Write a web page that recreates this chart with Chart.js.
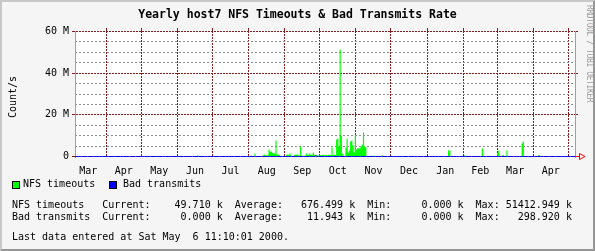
<!DOCTYPE html>
<html>
<head>
<meta charset="utf-8">
<script src="https://cdn.jsdelivr.net/npm/chart.js"></script>
<style>
html,body{margin:0;padding:0;background:#f5f5f5;}
#wrap{position:relative;width:595px;height:251px;overflow:hidden;background:#f5f5f5;}
#frame{position:absolute;left:0;top:0;width:595px;height:251px;box-sizing:border-box;
  border-top:2px solid #c8c8c8;border-left:2px solid #c8c8c8;border-right:2px solid #969696;border-bottom:2px solid #969696;}
canvas{position:absolute;left:0;top:0;}
.t{position:absolute;font-family:"DejaVu Sans Mono",monospace;font-size:10px;line-height:11px;white-space:pre;color:#000;}
#title{left:0;width:595px;text-align:center;top:7px;font-weight:bold;font-size:11.5px;line-height:14px;}
#ylab{left:12px;top:97px;transform:translate(-50%,-50%) rotate(-90deg);}
#credit{position:absolute;left:585px;top:5px;font-family:"DejaVu Sans Mono",monospace;font-size:8px;line-height:8px;
  letter-spacing:-0.4px;writing-mode:vertical-rl;color:#9a9a9a;white-space:pre;}
.box{position:absolute;width:8px;height:8px;box-sizing:border-box;border:1px solid #000;}
</style>
</head>
<body>
<div id="wrap">
  <div id="frame"></div>
  <canvas id="c" width="595" height="251"></canvas>
  <div id="title" class="t">Yearly host7 NFS Timeouts &amp; Bad Transmits Rate</div>
  <div id="ylab" class="t">Count/s</div>
  <div id="credit">RRDTOOL / TOBI OETIKER</div>
  <div class="box" style="left:12px;top:181px;background:#00ff00"></div>
  <div class="t" style="left:23px;top:178px">NFS timeouts</div>
  <div class="box" style="left:109px;top:181px;background:#0000ff"></div>
  <div class="t" style="left:123px;top:178px">Bad transmits</div>
  <div id="s1" class="t" style="left:12px;top:199px"></div>
  <div id="s2" class="t" style="left:12px;top:211px"></div>
  <div id="s3" class="t" style="left:12px;top:231px"></div>
</div>
<script>
// ---- time axis (days counted from 1999-03-01) ----
const X_MIN = 4.2, X_MAX = 432.8;
const monthStartDays = [0,31,61,92,122,153,184,214,245,275,306,337,366,397,427,458];
const monthLabels = ['Mar','Apr','May','Jun','Jul','Aug','Sep','Oct','Nov','Dec','Jan','Feb','Mar','Apr','May'];

// ---- value axis (millions of counts/s) ----
const yMajorTicks = [0, 20, 40, 60];
const yMajorLabels = ['0', '20 M', '40 M', '60 M'];
const yMinorTicks = [5, 10, 15, 25, 30, 35, 45, 50, 55];

// ---- NFS timeouts: daily values (M), all other days 0 ----
const nfsDays = [109,
  155,158,165,166,167,168,169,170,171,172,173,174,175,176,177,178,179,
  185,186,187,188,189,192,193,194,195,197,198,199,200,201,202,203,204,205,206,207,208,209,210,211,212,
  213,214,215,216,217,218,219,220,221,222,223,224,225,226,227,228,229,230,231,232,233,234,235,236,237,238,239,240,241,242,243,244,245,
  246,247,248,249,250,251,252,253,258,259,260,262,267,
  324,325,338,353,355,366,367,370,371,374,387,388,392,401,402,408];
const nfsValues = [0.6,
  0.5,1.4,0.6,1.0,0.6,0.6,0.6,3.4,2.4,2.4,1.8,1.4,1.4,7.7,1.0,1.0,0.6,
  0.9,1.0,0.9,1.4,0.5,0.9,0.9,1.0,0.9,4.8,0.4,0.4,0.4,0.4,1.4,0.8,0.9,1.4,0.9,0.9,1.9,0.9,0.9,0.5,0.5,
  0.5,0.6,0.6,0.8,0.6,0.6,0.8,0.6,0.8,0.8,0.6,4.3,0.8,0.8,0.8,8.2,8.6,4.8,51.4,10.0,1.4,0.3,0.3,4.3,8.6,1.9,2.9,7.2,7.7,5.3,1.9,10.6,3.4,
  4.0,4.0,4.0,4.8,5.8,11.5,4.8,4.5,0.4,0.4,0.4,0.4,0.6,
  2.9,2.9,0.6,3.8,0.3,1.6,2.9,0.6,0.6,2.9,6.2,7.2,0.3,0.6,0.6,0.3];

// ---- Bad transmits: daily values (M), all other days 0 ----
const badDays = [210, 211];
const badValues = [0.3, 0.2];

// ---- summary ----
const statNames = ['NFS timeouts', 'Bad transmits'];
const statCurrent = [49.710, 0.000];
const statAverage = [676.499, 11.943];
const statMin = [0.000, 0.000];
const statMax = [51412.949, 298.920];
const lastUpdate = 'Last data entered at Sat May  6 11:10:01 2000.';

// ---- build tables ----
function dailySeries(days, vals) {
  const m = {};
  days.forEach((d, i) => { m[d] = vals[i]; });
  const out = [];
  for (let d = Math.floor(X_MIN); d <= Math.ceil(X_MAX); d++) out.push({x: d, y: m[d] || 0});
  return out;
}
const monthTicks = monthStartDays.filter(v => v >= X_MIN && v <= X_MAX);
const labelTicks = [];
const labelTexts = [];
monthLabels.forEach((l, i) => {
  const mid = (monthStartDays[i] + monthStartDays[i + 1]) / 2;
  if (mid >= X_MIN && mid <= X_MAX) { labelTicks.push(mid); labelTexts.push(l); }
});

const fmt = v => v.toFixed(3).padStart(10);
[0, 1].forEach(i => {
  document.getElementById('s' + (i + 1)).textContent =
    statNames[i].padEnd(15) + 'Current:' + fmt(statCurrent[i]) + ' k  Average:' + fmt(statAverage[i]) +
    ' k  Min:' + fmt(statMin[i]) + ' k  Max:' + fmt(statMax[i]) + ' k';
});
document.getElementById('s3').textContent = lastUpdate;

const FONT = {family: 'DejaVu Sans Mono', size: 10};
const MGRID = 'rgb(130,30,30)';
const GRID = 'rgb(140,140,140)';
const AXIS = '#a0a0a0';
const ARROW = '#ff0000';

const rrdDecor = {
  id: 'rrdDecor',
  beforeDraw(chart) {
    const {ctx, chartArea: a} = chart;
    ctx.save();
    ctx.fillStyle = '#ffffff';
    ctx.fillRect(a.left, a.top, a.right - a.left, a.bottom - a.top);
    ctx.restore();
  },
  afterDraw(chart) {
    const {ctx, chartArea: a} = chart;
    const y = Math.round(chart.scales.y.getPixelForValue(0) - 0.5) + 0.5;
    ctx.save();
    ctx.strokeStyle = ARROW;
    ctx.lineWidth = 1;
    ctx.beginPath();
    ctx.moveTo(a.right, y); ctx.lineTo(a.right + 4.5, y);
    ctx.stroke();
    ctx.beginPath();
    ctx.moveTo(a.right + 4.5, y - 3); ctx.lineTo(a.right + 10, y); ctx.lineTo(a.right + 4.5, y + 3); ctx.closePath();
    ctx.stroke();
    ctx.restore();
  }
};

new Chart(document.getElementById('c'), {
  type: 'line',
  data: {
    datasets: [
      {label: 'NFS timeouts', data: dailySeries(nfsDays, nfsValues), stepped: true, fill: 'origin',
       backgroundColor: '#00ff00', borderWidth: 0, pointRadius: 0, order: 2},
      {label: 'Bad transmits', data: dailySeries(badDays, badValues), stepped: true, fill: false,
       borderColor: '#0000ff', borderWidth: 1, pointRadius: 0, order: 1}
    ]
  },
  options: {
    responsive: false,
    animation: false,
    devicePixelRatio: 1,
    layout: {padding: {left: 0, top: 31, right: 20, bottom: 0}},
    plugins: {legend: {display: false}, tooltip: {enabled: false}, title: {display: false}},
    scales: {
      // month labels (centred in each month), no grid lines
      x: {
        type: 'linear', position: 'bottom', min: X_MIN, max: X_MAX, bounds: 'data',
        afterBuildTicks: s => { s.ticks = labelTicks.map(v => ({value: v})); },
        afterFit: s => { s.height = 94; },
        grid: {display: false},
        border: {display: false},
        ticks: {autoSkip: false, maxRotation: 0, minRotation: 0, padding: 0, color: '#000', font: FONT,
          callback: (v, i) => labelTexts[i]}
      },
      // month boundaries: dotted grid lines and tick marks at top
      xGrid: {
        type: 'linear', position: 'top', min: X_MIN, max: X_MAX, bounds: 'data',
        afterBuildTicks: s => { s.ticks = monthTicks.map(v => ({value: v})); },
        afterFit: s => { s.height = 0; },
        grid: {color: MGRID, drawTicks: true, tickLength: 3, tickColor: MGRID, lineWidth: 1},
        border: {display: false, dash: [2, 1]},
        ticks: {display: false}
      },
      // month boundaries: tick marks under the plot
      xBottomTicks: {
        type: 'linear', position: 'bottom', min: X_MIN, max: X_MAX, bounds: 'data',
        afterBuildTicks: s => { s.ticks = monthTicks.map(v => ({value: v})); },
        afterFit: s => { s.height = 0; },
        grid: {drawOnChartArea: false, drawTicks: true, tickLength: 2, tickColor: MGRID},
        border: {display: false},
        ticks: {display: false}
      },
      yMinor: {
        type: 'linear', position: 'left', min: -0.24, max: 60.24, bounds: 'data',
        afterBuildTicks: s => { s.ticks = yMinorTicks.map(v => ({value: v})); },
        afterFit: s => { s.width = 0; },
        grid: {color: GRID, drawTicks: false, lineWidth: 1},
        border: {display: false, dash: [2, 2]},
        ticks: {display: false}
      },
      y: {
        type: 'linear', position: 'left', min: -0.24, max: 60.24, bounds: 'data',
        afterBuildTicks: s => { s.ticks = yMajorTicks.map(v => ({value: v})); },
        afterFit: s => { s.width = 75; },
        grid: {color: MGRID, drawTicks: true, tickLength: 3, tickColor: MGRID, lineWidth: 1},
        border: {display: true, color: AXIS, width: 1, dash: [2, 1]},
        ticks: {autoSkip: false, padding: 3, color: '#000', font: FONT,
          callback: (v, i) => yMajorLabels[i]}
      },
      yRight: {
        type: 'linear', position: 'right', min: -0.24, max: 60.24, bounds: 'data',
        afterBuildTicks: s => { s.ticks = yMajorTicks.map(v => ({value: v})); },
        afterFit: s => { s.width = 0; },
        grid: {drawOnChartArea: false, drawTicks: true, tickLength: 3, tickColor: MGRID},
        border: {display: true, color: AXIS, width: 1},
        ticks: {display: false}
      }
    }
  },
  plugins: [rrdDecor]
});
</script>
</body>
</html>
